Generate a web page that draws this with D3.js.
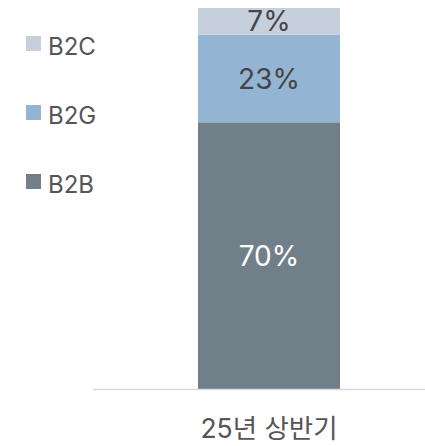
<!DOCTYPE html>
<html>
<head>
<meta charset="utf-8">
<script src="https://cdn.jsdelivr.net/npm/d3@7"></script>
<style>
  body { margin: 0; background: #fff; }
  svg text { font-family: Inter, "Noto Sans CJK KR", sans-serif; }
</style>
</head>
<body>
<svg width="425" height="446"></svg>
<script>
var categories = ["25년 상반기"];
var seriesNames = ["B2B", "B2G", "B2C"];
var seriesValues = { "B2B": [70], "B2G": [23], "B2C": [7] };
var colors = { "B2B": "#717f89", "B2G": "#93b5d3", "B2C": "#c5d0dc" };
var labelColors = { "B2B": "#ffffff", "B2G": "#444444", "B2C": "#444444" };
var legendOrder = ["B2C", "B2G", "B2B"];

var svg = d3.select("svg"),
    width = +svg.attr("width"),
    height = +svg.attr("height");

var rows = categories.map(function(c, i) {
  var r = { category: c };
  seriesNames.forEach(function(s) { r[s] = seriesValues[s][i]; });
  return r;
});

var stack = d3.stack().keys(seriesNames)(rows);

var x = d3.scaleBand()
    .domain(categories)
    .range([93, 445])
    .paddingInner(0.5)
    .paddingOuter(0.3697);

var y = d3.scaleLinear()
    .domain([0, 100])
    .range([389, 8]);

var layer = svg.append("g")
  .selectAll("g")
  .data(stack)
  .enter().append("g")
    .attr("fill", function(d) { return colors[d.key]; });

layer.selectAll("rect")
  .data(function(d) { return d; })
  .enter().append("rect")
    .attr("x", function(d) { return x(d.data.category); })
    .attr("width", x.bandwidth())
    .attr("y", function(d) { return y(d[1]); })
    .attr("height", function(d) { return y(d[0]) - y(d[1]); });

// value labels
layer.each(function(s) {
  d3.select(this).selectAll("text")
    .data(s)
    .enter().append("text")
      .attr("x", function(d) { return x(d.data.category) + x.bandwidth() / 2; })
      .attr("y", function(d) { return (y(d[0]) + y(d[1])) / 2; })
      .attr("dy", "0.36em")
      .attr("text-anchor", "middle")
      .attr("font-size", "28px")
      .attr("fill", labelColors[s.key])
      .text(function(d) { return (d[1] - d[0]) + "%"; });
});

// baseline
svg.append("line")
    .attr("x1", 93)
    .attr("x2", 425)
    .attr("y1", 389.5)
    .attr("y2", 389.5)
    .attr("stroke", "#d9d9d9")
    .attr("stroke-width", 1.5);

// category label
svg.selectAll(".cat")
  .data(categories)
  .enter().append("text")
    .attr("class", "cat")
    .attr("x", function(d) { return x(d) + x.bandwidth() / 2; })
    .attr("y", 438)
    .attr("text-anchor", "middle")
    .attr("font-size", "26.5px")
    .attr("fill", "#555")
    .text(function(d) { return d; });

// legend
var legend = svg.append("g")
  .selectAll("g")
  .data(legendOrder)
  .enter().append("g")
    .attr("transform", function(d, i) { return "translate(26," + (36 + i * 69) + ")"; });

legend.append("rect")
    .attr("width", 15)
    .attr("height", 15)
    .attr("fill", function(d) { return colors[d]; });

legend.append("text")
    .attr("x", 22)
    .attr("y", 19)
    .attr("font-size", "24px")
    .attr("fill", "#555")
    .text(function(d) { return d; });
</script>
</body>
</html>
